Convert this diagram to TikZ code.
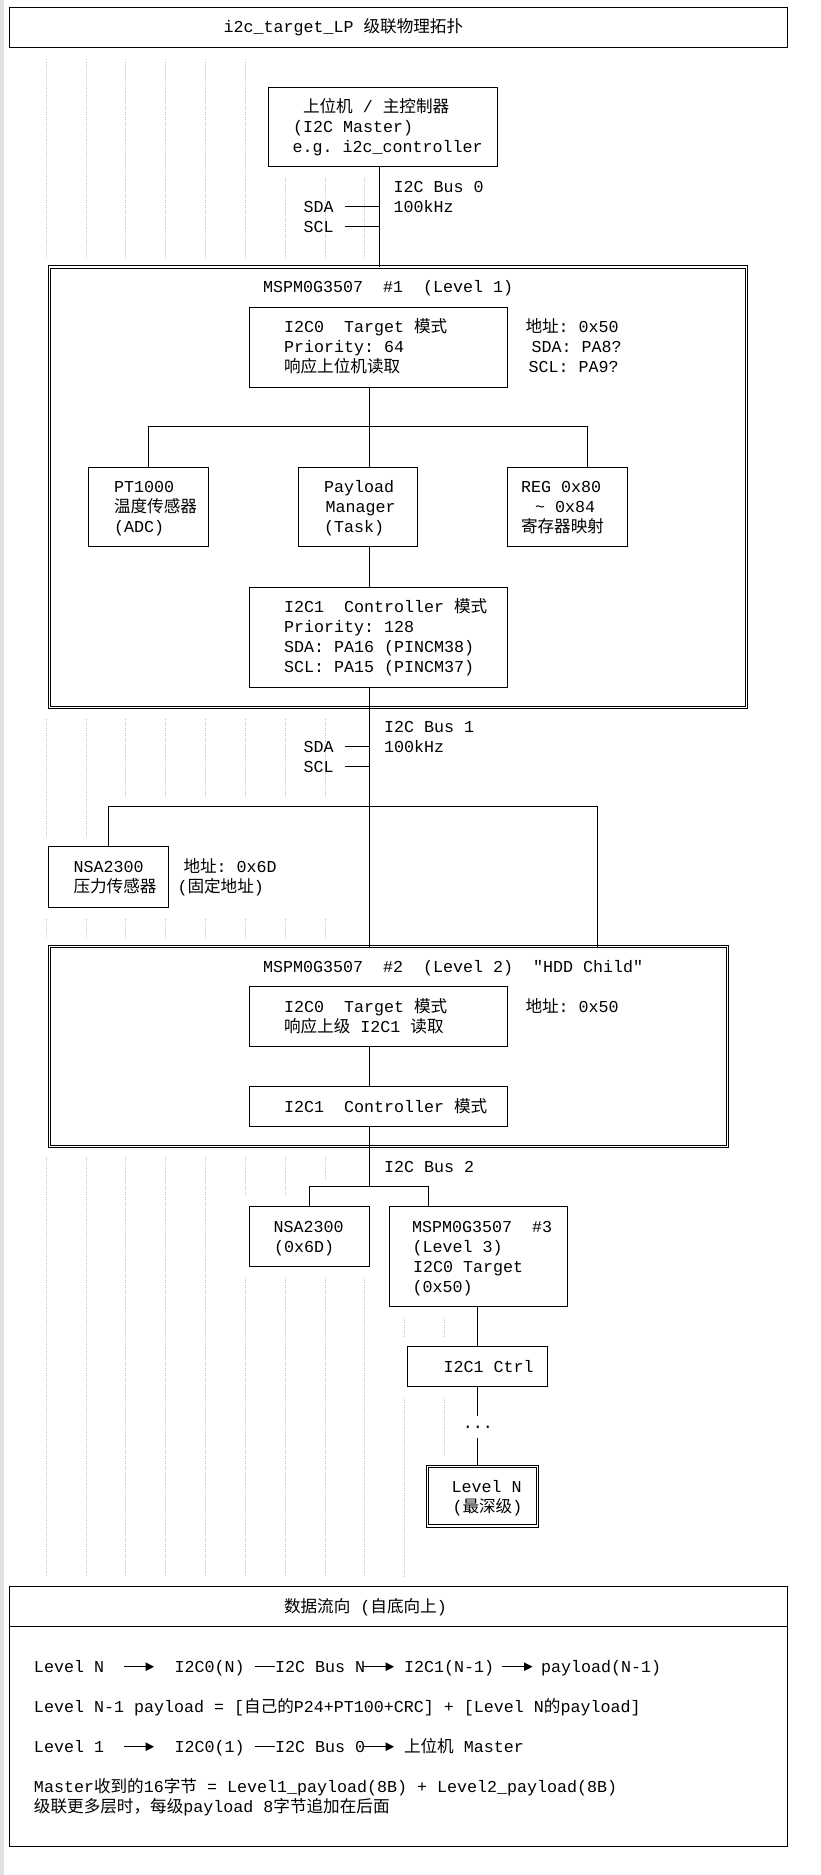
\documentclass[tikz,border=0pt]{standalone}
\usepackage{fontspec}
\setmonofont{Liberation Mono}
\newfontfamily\cjkf{Noto Sans CJK SC}
\usetikzlibrary{arrows.meta,calc}
\newcommand\zh[1]{{\cjkf\fontsize{16.6pt}{20pt}\selectfont #1}}
\definecolor{stripgray}{RGB}{224,224,224}
\definecolor{guidegray}{RGB}{196,196,196}
\begin{document}
\begin{tikzpicture}[x=1pt,y=-1pt,
  box/.style={draw, line width=1pt, inner sep=0pt, outer sep=0pt, anchor=north west},
  dbox/.style={draw, double, double distance=1.3pt, line width=1pt, inner sep=0pt, outer sep=0pt, anchor=north west},
  txt/.style={anchor=base west, inner sep=0pt, outer sep=0pt, font=\ttfamily\fontsize{16.67pt}{20pt}\selectfont},
  wire/.style={line width=1pt},
  guide/.style={draw=guidegray, line width=0.7pt, dash pattern=on 1pt off 1.2pt},
  flow/.style={line width=1pt, -{Triangle[length=8.5pt,width=8.5pt]}}
]
\useasboundingbox (0,0) rectangle (820,1875);
\fill[stripgray] (0,0) rectangle (4,1875);

% indentation guides
\foreach \i in {0,...,5} \draw[guide] ({46+39.85*\i},59.3) -- ({46+39.85*\i},258);
\foreach \i in {6,7,8} \draw[guide] ({46+39.85*\i},178) -- ({46+39.85*\i},258);
\foreach \i in {0,1} \draw[guide] ({46+39.85*\i},719.3) -- ({46+39.85*\i},836.7);
\foreach \i in {2,...,7} \draw[guide] ({46+39.85*\i},719.3) -- ({46+39.85*\i},798.3);
\foreach \i in {0,...,7} \draw[guide] ({46+39.85*\i},919) -- ({46+39.85*\i},936.7);
\foreach \i in {0,...,4} \draw[guide] ({46+39.85*\i},1157) -- ({46+39.85*\i},1577);
\foreach \i in {5,6} \draw[guide] ({46+39.85*\i},1157) -- ({46+39.85*\i},1196);
\draw[guide] ({46+39.85*7},1157) -- ({46+39.85*7},1180);
\foreach \i in {5,...,8} \draw[guide] ({46+39.85*\i},1278) -- ({46+39.85*\i},1577);
\foreach \i in {9,10} \draw[guide] ({46+39.85*\i},1318) -- ({46+39.85*\i},1337);
\draw[guide] ({46+39.85*9},1398) -- ({46+39.85*9},1577);
\draw[guide] ({46+39.85*10},1398) -- ({46+39.85*10},1456.7);

% title
\node[box, minimum width=778pt, minimum height=40pt] (title) at (9.5,7.3) {};
\node[txt] (titletxt) at (223.5,32.7) {i2c\_target\_LP \zh{级联物理拓扑}};

% master
\node[box, minimum width=228.6pt, minimum height=79.4pt] (master) at (268.4,87.3) {};
\node[txt] (m1) at (303,112.7) {\zh{上位机} / \zh{主控制器}};
\node[txt] (m2) at (293,132.7) {(I2C Master)};
\node[txt] (m3) at (292.5,152.7) {e.g. i2c\_controller};

% bus 0
\coordinate (busA) at (379,0);
\coordinate (busB) at (369,0);
\node[txt] (b0a) at (393.5,192.7) {I2C Bus 0};
\node[txt] (b0b) at (393.5,212.7) {100kHz};
\node[txt] (sda0) at (303.5,212.7) {SDA};
\node[txt] (scl0) at (303.5,232.7) {SCL};

% level 1
\node[dbox, minimum width=697.3pt, minimum height=440.2pt] (l1) at (49.3,267) {};
\node[txt] (l1t) at (263,292.7) {MSPM0G3507~~\#1~~(Level 1)};
\node[box, minimum width=258.6pt, minimum height=79.3pt] (i2c0a) at (249,307.7) {};
\node[txt] (a1) at (284,332.7) {I2C0~~Target \zh{模式}};
\node[txt] (a2) at (284,352.7) {Priority: 64};
\node[txt] (a3) at (284,372.7) {\zh{响应上位机读取}};
\node[txt] (a4) at (525.5,332.7) {\zh{地址}: 0x50};
\node[txt] (a5) at (531.5,352.7) {SDA: PA8?};
\node[txt] (a6) at (528.5,372.7) {SCL: PA9?};

\node[box, minimum width=120.1pt, minimum height=79.4pt] (pt) at (88.8,467.3) {};
\node[txt] (p1) at (114,492.7) {PT1000};
\node[txt] (p2) at (114,512.7) {\zh{温度传感器}};
\node[txt] (p3) at (114,532.7) {(ADC)};
\node[box, minimum width=119.1pt, minimum height=79.4pt] (pay) at (298.7,467.3) {};
\node[txt] (q1) at (324,492.7) {Payload};
\node[txt] (q2) at (325.5,512.7) {Manager};
\node[txt] (q3) at (324,532.7) {(Task)};
\node[box, minimum width=120.1pt, minimum height=79.4pt] (reg) at (507.6,467.3) {};
\node[txt] (r1) at (521,492.7) {REG 0x80};
\node[txt] (r2) at (535,512.7) {\textasciitilde{} 0x84};
\node[txt] (r3) at (521,532.7) {\zh{寄存器映射}};

\node[box, minimum width=258.6pt, minimum height=99.3pt] (i2c1a) at (249,587.7) {};
\node[txt] (c1) at (284,612.7) {I2C1~~Controller \zh{模式}};
\node[txt] (c2) at (284,632.7) {Priority: 128};
\node[txt] (c3) at (284,652.7) {SDA: PA16 (PINCM38)};
\node[txt] (c4) at (284,672.7) {SCL: PA15 (PINCM37)};

% bus 1
\node[txt] (b1a) at (384,732.7) {I2C Bus 1};
\node[txt] (b1b) at (384,752.7) {100kHz};
\node[txt] (sda1) at (303.5,752.7) {SDA};
\node[txt] (scl1) at (303.5,772.7) {SCL};

\node[box, minimum width=120.1pt, minimum height=60.6pt] (nsa) at (48.6,846.7) {};
\node[txt] (n1) at (73.5,872.7) {NSA2300};
\node[txt] (n2) at (73.5,892.7) {\zh{压力传感器}};
\node[txt] (n3) at (183.5,872.7) {\zh{地址}: 0x6D};
\node[txt] (n4) at (177.5,892.7) {(\zh{固定地址})};

% level 2
\node[dbox, minimum width=678.4pt, minimum height=199.6pt] (l2) at (49.3,946.7) {};
\node[txt] (l2t) at (263,972.7) {MSPM0G3507~~\#2~~(Level 2)~~"HDD Child"};
\node[box, minimum width=258.6pt, minimum height=60pt] (i2c0b) at (249,986.3) {};
\node[txt] (d1) at (284,1012.7) {I2C0~~Target \zh{模式}};
\node[txt] (d2) at (284,1032.7) {\zh{响应上级} I2C1 \zh{读取}};
\node[txt] (d3) at (525.5,1012.7) {\zh{地址}: 0x50};
\node[box, minimum width=258.6pt, minimum height=40pt] (i2c1b) at (249,1086.3) {};
\node[txt] (e1) at (284,1112.7) {I2C1~~Controller \zh{模式}};

% bus 2
\node[txt] (b2a) at (384,1172.7) {I2C Bus 2};
\node[box, minimum width=120pt, minimum height=59.3pt] (nsa2) at (249,1206.7) {};
\node[txt] (f1) at (273.5,1232.7) {NSA2300};
\node[txt] (f2) at (274,1252.7) {(0x6D)};
\node[box, minimum width=178pt, minimum height=99.3pt] (l3) at (389,1206.7) {};
\node[txt] (g1) at (412,1232.7) {MSPM0G3507~~\#3};
\node[txt] (g2) at (412.5,1252.7) {(Level 3)};
\node[txt] (g3) at (413,1272.7) {I2C0 Target};
\node[txt] (g4) at (412.5,1292.7) {(0x50)};
\node[box, minimum width=139.2pt, minimum height=39.3pt] (ctrl) at (407.8,1346.7) {};
\node[txt] (h1) at (443.5,1372.7) {I2C1 Ctrl};
\node[inner sep=0pt, outer sep=0pt, minimum height=22pt, font=\ttfamily\fontsize{16.67pt}{20pt}\selectfont] (dots) at (477.8,1427) {...};
\node[dbox, minimum width=109.9pt, minimum height=59.7pt] (lvN) at (427.7,1466.3) {};
\node[txt] (k1) at (451.5,1492.7) {Level N};
\node[txt] (k2) at (452.5,1512.7) {(\zh{最深级})};

% data flow box
\node[box, minimum width=778pt, minimum height=259.3pt] (flowbox) at (9.5,1586.7) {};
\coordinate (sep) at (0,1626.7);
\draw[wire] (flowbox.west |- sep) -- (flowbox.east |- sep);
\node[txt] (ft) at (284,1612.7) {\zh{数据流向} (\zh{自底向上})};

\node[txt] (fa1) at (34,1672.7) {Level N};
\node[txt] (fb1) at (174.5,1672.7) {I2C0(N)};
\node[txt] (fc1) at (275,1672.7) {I2C Bus N};
\node[txt] (fd1) at (404,1672.7) {I2C1(N-1)};
\node[txt] (fe1) at (541,1672.7) {payload(N-1)};
\node[txt] (fl2) at (34,1712.7) {Level N-1 payload = [\zh{自己的}P24+PT100+CRC] + [Level N\zh{的}payload]};
\node[txt] (fa3) at (34,1752.7) {Level 1};
\node[txt] (fb3) at (174.5,1752.7) {I2C0(1)};
\node[txt] (fc3) at (275,1752.7) {I2C Bus 0};
\node[txt] (fd3) at (404,1752.7) {\zh{上位机} Master};
\node[txt] (fl4) at (34,1792.7) {Master\zh{收到的}16\zh{字节} = Level1\_payload(8B) + Level2\_payload(8B)};
\node[txt] (fl5) at (34,1812.7) {\zh{级联更多层时，每级}payload 8\zh{字节追加在后面}};

\foreach \r in {1,3} {
  \draw[flow] ([shift={(20.3,-6)}]fa\r.base east) -- ([shift={(-20.5,-6)}]fb\r.base west);
  \draw[wire] ([shift={(10,-6)}]fb\r.base east) -- ([shift={(0,-6)}]fc\r.base west);
  \draw[flow] ([shift={(-2,-6)}]fc\r.base east) -- ([shift={(-10,-6)}]fd\r.base west);
}
\draw[flow] ([shift={(8,-6)}]fd1.base east) -- ([shift={(-8.5,-6)}]fe1.base west);

% connectors
\draw[wire] (busA |- master.south) -- (busA |- l1.north);
\draw[wire] ([shift={(11,-6)}]sda0.base east) coordinate (s0) -- (s0 -| busA);
\draw[wire] ([shift={(11,-6)}]scl0.base east) coordinate (s1) -- (s1 -| busA);

\coordinate (regdrop) at (587.5,426.7);
\draw[wire] (busB |- i2c0a.south) -- (busB |- pay.north);
\draw[wire] (pt.north) |- (regdrop) -- (regdrop |- reg.north);
\draw[wire] (busB |- pay.south) -- (busB |- i2c1a.north);

\coordinate (bus1R) at (597,806.7);
\draw[wire] (busB |- i2c1a.south) -- (busB |- l2.north);
\draw[wire] (nsa.north) |- (bus1R) -- (bus1R |- l2.north);
\draw[wire] ([shift={(11,-6)}]sda1.base east) coordinate (s2) -- (s2 -| busB);
\draw[wire] ([shift={(11,-6)}]scl1.base east) coordinate (s3) -- (s3 -| busB);

\draw[wire] (busB |- i2c0b.south) -- (busB |- i2c1b.north);
\draw[wire] (busB |- i2c1b.south) -- (busB |- l2.south);

\coordinate (l3drop) at (428,1186.7);
\draw[wire] (busB |- l2.south) -- (busB |- l3drop);
\draw[wire] (nsa2.north) |- (l3drop) -- (l3drop |- l3.north);

\draw[wire] (dots.north |- l3.south) -- (dots.north |- ctrl.north);
\draw[wire] (dots.north |- ctrl.south) -- (dots.north);
\draw[wire] (dots.south) -- (dots.south |- lvN.north);
\end{tikzpicture}
\end{document}
